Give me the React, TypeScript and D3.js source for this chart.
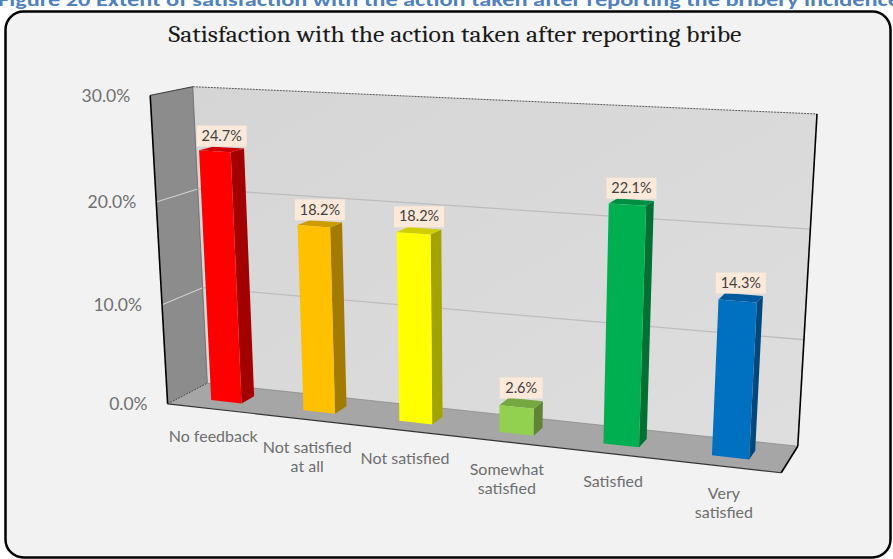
import React from "react";
import * as d3 from "d3";

// ---- data ----
const CATEGORIES = [
  "No feedback",
  "Not satisfied at all",
  "Not satisfied",
  "Somewhat satisfied",
  "Satisfied",
  "Very satisfied",
];
const CATEGORY_LINES = [
  ["No feedback"],
  ["Not satisfied", "at all"],
  ["Not satisfied"],
  ["Somewhat", "satisfied"],
  ["Satisfied"],
  ["Very", "satisfied"],
];
const VALUES = [24.7, 18.2, 18.2, 2.6, 22.1, 14.3];
const BAR_COLORS = ["#FF0000", "#FFC000", "#FFFF00", "#92D050", "#00B050", "#0070C0"];
const Y_TICKS = [0, 10, 20, 30];
const Y_MAX = 30;

const TITLE = "Satisfaction with the action taken after reporting bribe";
const CAPTION =
  "Figure 20 Extent of satisfaction with the action taken after reporting the bribery incidence";

// ---- 3D layout ----
// World space: X spans the categories (0..6), Y is the value axis (0..1),
// Z is depth (0 = front edge of the floor, 1 = back wall).
// The projection is calibrated from where the plot cube's corners sit on screen.
const CUBE_ANCHORS: [number[], number[]][] = [
  [[0, 0, 0], [168, 404]],
  [[0, 1, 0], [150, 95]],
  [[6, 0, 0], [781, 473]],
  [[0, 0, 1], [207, 383]],
  [[0, 1, 1], [193, 87]],
  [[6, 1, 1], [817, 114]],
  [[6, 0, 1], [798, 446]],
];

function fitProjection(pairs: [number[], number[]][]) {
  const rows: number[][] = [];
  const rhs: number[] = [];
  for (const [[X, Y, Z], [u, v]] of pairs) {
    rows.push([X, Y, Z, 1, 0, 0, 0, 0, -u * X, -u * Y, -u * Z]);
    rhs.push(u);
    rows.push([0, 0, 0, 0, X, Y, Z, 1, -v * X, -v * Y, -v * Z]);
    rhs.push(v);
  }
  const n = 11;
  const M = Array.from({ length: n }, () => new Array(n + 1).fill(0));
  rows.forEach((r, k) => {
    for (let i = 0; i < n; i++) {
      for (let j = 0; j < n; j++) M[i][j] += r[i] * r[j];
      M[i][n] += r[i] * rhs[k];
    }
  });
  for (let c = 0; c < n; c++) {
    let piv = c;
    for (let r = c + 1; r < n; r++) if (Math.abs(M[r][c]) > Math.abs(M[piv][c])) piv = r;
    [M[c], M[piv]] = [M[piv], M[c]];
    for (let r = 0; r < n; r++) {
      if (r === c) continue;
      const f = M[r][c] / M[c][c];
      for (let k = c; k <= n; k++) M[r][k] -= f * M[c][k];
    }
  }
  const p = M.map((row, i) => row[n] / row[i]);
  return (X: number, Y: number, Z: number): [number, number] => {
    const w = p[8] * X + p[9] * Y + p[10] * Z + 1;
    return [
      (p[0] * X + p[1] * Y + p[2] * Z + p[3]) / w,
      (p[4] * X + p[5] * Y + p[6] * Z + p[7]) / w,
    ];
  };
}

const project = fitProjection(CUBE_ANCHORS);

const x = d3
  .scaleBand<string>()
  .domain(CATEGORIES)
  .range([0, 6])
  .paddingInner(2 / 3)
  .paddingOuter(1 / 3);
const y = d3.scaleLinear().domain([0, Y_MAX]).range([0, 1]);
const Z_FRONT = 1 / 3;
const Z_BACK = 2 / 3;

const pts = (list: number[][]) =>
  list.map((q) => project(q[0], q[1], q[2]).join(",")).join(" ");

const LABEL_FONT = "Lato, 'Open Sans', sans-serif";

export default function App() {
  const W = 893;
  const H = 559;

  const backWall = pts([[0, 0, 1], [0, 1, 1], [6, 1, 1], [6, 0, 1]]);
  const sideWall = pts([[0, 0, 0], [0, 1, 0], [0, 1, 1], [0, 0, 1]]);
  const floor = pts([[0, 0, 0], [0, 0, 1], [6, 0, 1], [6, 0, 0]]);

  const seg = (a: number[], b: number[]) => {
    const [x1, y1] = project(a[0], a[1], a[2]);
    const [x2, y2] = project(b[0], b[1], b[2]);
    return { x1, y1, x2, y2 };
  };

  return (
    <svg
      width={W}
      height={H}
      style={{ position: "absolute", left: 0, top: 0, background: "#ffffff" }}
    >
      <defs>
        <linearGradient id="wallGrad" x1="0" y1="0" x2="1" y2="1">
          <stop offset="0" stopColor="#D5D5D5" />
          <stop offset="1" stopColor="#DEDEDE" />
        </linearGradient>
      </defs>

      {/* figure caption above the chart, running off the top of the page */}
      <text
        x={-2}
        y={6}
        fontFamily="Carlito, Lato, 'Liberation Sans', sans-serif"
        fontWeight="bold"
        fontSize={19}
        fill="#4F81BD"
        textLength={902}
        lengthAdjust="spacingAndGlyphs"
      >
        {CAPTION}
      </text>

      {/* chart area */}
      <rect
        x={5.5}
        y={11.5}
        width={885}
        height={546}
        rx={18}
        fill="#F2F2F2"
        stroke="#000"
        strokeWidth={2.5}
      />

      <text
        x={455}
        y={42}
        textAnchor="middle"
        fontFamily="Cambria, 'Liberation Serif', 'DejaVu Serif', serif"
        fontSize={22}
        fill="#1a1a1a"
        textLength={573}
        lengthAdjust="spacingAndGlyphs"
      >
        {TITLE}
      </text>

      {/* walls and floor */}
      <polygon points={backWall} fill="url(#wallGrad)" />
      <polygon points={sideWall} fill="#8C8C8C" />
      <polygon points={floor} fill="#A6A6A6" />

      {/* gridlines */}
      {Y_TICKS.filter((t) => t > 0 && t < Y_MAX).map((t) => (
        <g key={"g" + t}>
          <line {...seg([0, y(t), 1], [6, y(t), 1])} stroke="#BDBDBD" strokeWidth={1.3} />
          <line {...seg([0, y(t), 0], [0, y(t), 1])} stroke="#CFCFCF" strokeWidth={1.1} />
        </g>
      ))}

      {/* cube edges */}
      <line {...seg([0, 0, 1], [6, 0, 1])} stroke="#8a8a8a" strokeWidth={0.8} />
      <line {...seg([0, 0, 1], [0, 1, 1])} stroke="#5a5a5a" strokeWidth={0.7} />
      <line {...seg([0, 1, 1], [6, 1, 1])} stroke="#555" strokeWidth={1} strokeDasharray="2 1" />
      <line {...seg([0, 1, 0], [0, 1, 1])} stroke="#3a3a3a" strokeWidth={1} />
      <line {...seg([0, 0, 0], [0, 1, 0])} stroke="#000" strokeWidth={1.6} />
      <line {...seg([0, 0, 0], [0, 0, 1])} stroke="#444" strokeWidth={1} strokeDasharray="2 1" />
      <line {...seg([0, 0, 0], [6, 0, 0])} stroke="#333" strokeWidth={1.1} />
      <line {...seg([6, 0, 0], [6, 0, 1])} stroke="#000" strokeWidth={1.6} />
      <line {...seg([6, 0, 1], [6, 1, 1])} stroke="#000" strokeWidth={1.6} />

      {/* y axis labels */}
      {Y_TICKS.map((t) => {
        const [px, py] = project(0, y(t), 0);
        return (
          <text
            key={"y" + t}
            x={px - 20}
            y={py + 2}
            textAnchor="end"
            dominantBaseline="middle"
            fontFamily={LABEL_FONT}
            fontSize={17.5}
            fill="#707070"
          >
            {d3.format(".1f")(t) + "%"}
          </text>
        );
      })}

      {/* bars */}
      {CATEGORIES.map((c, i) => {
        const x0 = x(c)!;
        const x1 = x0 + x.bandwidth();
        const h = y(VALUES[i]);
        const base = d3.color(BAR_COLORS[i])!;
        const front = pts([[x0, 0, Z_FRONT], [x0, h, Z_FRONT], [x1, h, Z_FRONT], [x1, 0, Z_FRONT]]);
        const side = pts([[x1, 0, Z_FRONT], [x1, h, Z_FRONT], [x1, h, Z_BACK], [x1, 0, Z_BACK]]);
        const top = pts([[x0, h, Z_FRONT], [x0, h, Z_BACK], [x1, h, Z_BACK], [x1, h, Z_FRONT]]);
        return (
          <g key={c}>
            <polygon points={side} fill={base.darker(1.25).formatHex()} />
            <polygon points={top} fill={base.darker(0.6).formatHex()} />
            <polygon points={front} fill={base.formatHex()} />
          </g>
        );
      })}

      {/* data labels */}
      {CATEGORIES.map((c, i) => {
        const cx = x(c)! + x.bandwidth() / 2;
        const h = y(VALUES[i]);
        const [tx] = project(cx, h, 0.5);
        const [, by] = project(cx, h, Z_BACK);
        const label = d3.format(".1f")(VALUES[i]) + "%";
        const bw = 7 * label.length + 15;
        const bh = 21;
        return (
          <g key={"l" + c}>
            <rect x={tx - bw / 2} y={by - 1 - bh} width={bw} height={bh} fill="#FDE9D9" />
            <text
              x={tx}
              y={by - 1 - bh / 2 + 1}
              textAnchor="middle"
              dominantBaseline="middle"
              fontFamily={LABEL_FONT}
              fontSize={14.5}
              fill="#404040"
            >
              {label}
            </text>
          </g>
        );
      })}

      {/* category labels */}
      {CATEGORIES.map((c, i) => {
        const cx = x(c)! + x.bandwidth() / 2;
        const [px, py] = project(cx, 0, 0);
        return (
          <text
            key={"c" + c}
            textAnchor="middle"
            fontFamily={LABEL_FONT}
            fontSize={16}
            fill="#6E6E6E"
          >
            {CATEGORY_LINES[i].map((line, k) => (
              <tspan key={k} x={px} y={py + 29 + k * 19} dominantBaseline="middle">
                {line}
              </tspan>
            ))}
          </text>
        );
      })}
    </svg>
  );
}
